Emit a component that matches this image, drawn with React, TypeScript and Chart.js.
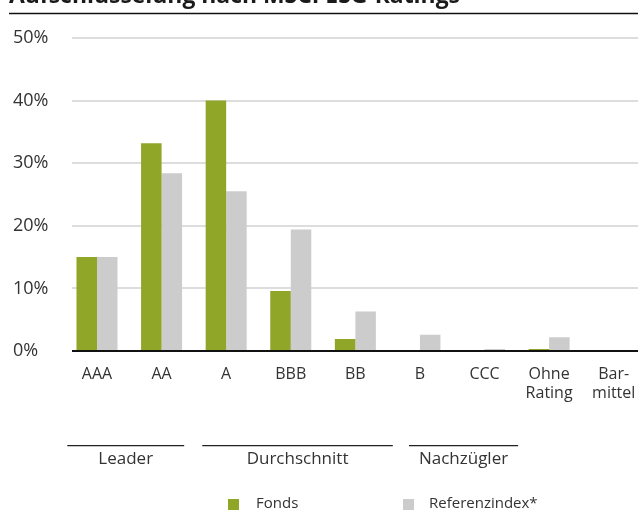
import React, { useEffect, useRef } from 'react';
import { Chart, registerables } from 'chart.js';

Chart.register(...registerables);

// ---- data ----
const TITLE = 'Aufschlüsselung nach MSCI ESG-Ratings';
const CATEGORIES: (string | string[])[] = ['AAA', 'AA', 'A', 'BBB', 'BB', 'B', 'CCC', ['Ohne', 'Rating'], ['Bar-', 'mittel']];
const FONDS = [15.0, 33.2, 40.0, 9.6, 1.9, 0, 0, 0.3, 0];
const REFERENZ = [15.0, 28.4, 25.5, 19.4, 6.3, 2.6, 0.3, 2.2, 0];
const SERIES_NAMES = ['Fonds', 'Referenzindex*'];
const Y_TICKS = [0, 10, 20, 30, 40, 50];
const GROUP_NAMES = ['Leader', 'Durchschnitt', 'Nachzügler'];
// group bracket extents in category-index units
const GROUP_FROM = [-0.46, 1.63, 4.83];
const GROUP_TO = [1.35, 4.58, 6.52];

// ---- style ----
const GREEN = '#8fa628';
const GREY = '#cccccc';
const TEXT = '#333333';
const FONT = "'Open Sans', 'Noto Sans', sans-serif";
const W = 660;
const H = 540;
const OFF = 27; // canvas is shifted up so the title is cut like in the reference
const GRID_LEFT = 72;

const decor = {
  id: 'decor',
  beforeDatasetsDraw(chart: any) {
    const { ctx, width } = chart;
    const y = chart.scales.y;
    ctx.save();
    ctx.strokeStyle = '#dddddd';
    ctx.lineWidth = 2;
    Y_TICKS.forEach((v) => {
      if (v === 0) return;
      const py = Math.round(y.getPixelForValue(v));
      ctx.beginPath();
      ctx.moveTo(GRID_LEFT, py);
      ctx.lineTo(width, py);
      ctx.stroke();
    });
    ctx.restore();
  },
  afterDatasetsDraw(chart: any) {
    const { ctx, width } = chart;
    const x = chart.scales.x;
    const y = chart.scales.y;
    ctx.save();
    // axis line
    const y0 = Math.round(y.getPixelForValue(0));
    ctx.strokeStyle = '#111111';
    ctx.lineWidth = 2;
    ctx.beginPath();
    ctx.moveTo(GRID_LEFT, y0);
    ctx.lineTo(width, y0);
    ctx.stroke();

    // title
    ctx.fillStyle = '#1a1a1a';
    ctx.font = `bold 20px ${FONT}`;
    const tw = ctx.measureText(TITLE).width;
    const size = (20 * 451) / tw;
    ctx.font = `bold ${size.toFixed(2)}px ${FONT}`;
    ctx.textAlign = 'left';
    ctx.textBaseline = 'alphabetic';
    ctx.fillText(TITLE, 9, OFF + 2.5);
    ctx.strokeStyle = '#111111';
    ctx.lineWidth = 1.6;
    ctx.beginPath();
    ctx.moveTo(9, OFF + 13.5);
    ctx.lineTo(width, OFF + 13.5);
    ctx.stroke();

    // groups
    const p0 = x.getPixelForValue(0);
    const step = x.getPixelForValue(1) - p0;
    ctx.lineWidth = 1.3;
    ctx.strokeStyle = '#222222';
    ctx.fillStyle = TEXT;
    ctx.font = `17px ${FONT}`;
    ctx.textAlign = 'center';
    ctx.textBaseline = 'middle';
    GROUP_NAMES.forEach((name, i) => {
      const a = p0 + GROUP_FROM[i] * step;
      const b = p0 + GROUP_TO[i] * step;
      const ly = OFF + 445.7;
      ctx.beginPath();
      ctx.moveTo(a, ly);
      ctx.lineTo(b, ly);
      ctx.stroke();
      ctx.fillText(name, (a + b) / 2, OFF + 459.5);
    });

    // legend
    const legendBox = [228, 403];
    const legendText = [256, 429];
    ctx.font = `15px ${FONT}`;
    ctx.textAlign = 'left';
    chart.data.datasets.forEach((ds: any, i: number) => {
      ctx.fillStyle = ds.backgroundColor;
      ctx.fillRect(legendBox[i], OFF + 499, 11, 11);
      ctx.fillStyle = TEXT;
      ctx.fillText(ds.label, legendText[i], OFF + 504);
    });
    ctx.restore();
  },
};

export default function App() {
  const ref = useRef<HTMLCanvasElement | null>(null);
  useEffect(() => {
    if (!ref.current) return;
    const chart = new Chart(ref.current, {
      type: 'bar',
      data: {
        labels: CATEGORIES as any,
        datasets: [
          { label: SERIES_NAMES[0], data: FONDS, backgroundColor: GREEN, borderWidth: 0, categoryPercentage: 0.635, barPercentage: 1 },
          { label: SERIES_NAMES[1], data: REFERENZ, backgroundColor: GREY, borderWidth: 0, categoryPercentage: 0.635, barPercentage: 1 },
        ],
      },
      options: {
        responsive: false,
        animation: false,
        devicePixelRatio: 1,
        layout: { padding: { top: 65, left: 13, right: 14, bottom: 0 } },
        plugins: { legend: { display: false }, tooltip: { enabled: false }, title: { display: false } },
        scales: {
          x: {
            grid: { display: false, drawTicks: false },
            border: { display: false },
            ticks: { font: { family: FONT, size: 16 }, color: TEXT, padding: 14, maxRotation: 0, autoSkip: false },
            afterFit: (s: any) => { s.height = 162; },
          },
          y: {
            min: 0,
            max: 50,
            grid: { display: false, drawTicks: false },
            border: { display: false },
            ticks: {
              stepSize: 10,
              font: { family: FONT, size: 18 },
              color: TEXT,
              crossAlign: 'far',
              padding: 0,
              callback: (v: any) => `${v}%`,
            },
            afterFit: (s: any) => { s.width = 51.7; },
          },
        },
      },
      plugins: [decor],
    });
    return () => chart.destroy();
  }, []);
  return (
    <div style={{ position: 'absolute', left: 0, top: 0, width: 638, height: 513, overflow: 'hidden', background: '#fff' }}>
      <canvas ref={ref} width={W} height={H} style={{ position: 'absolute', left: 0, top: -OFF, width: W, height: H, display: 'block' }} />
    </div>
  );
}
